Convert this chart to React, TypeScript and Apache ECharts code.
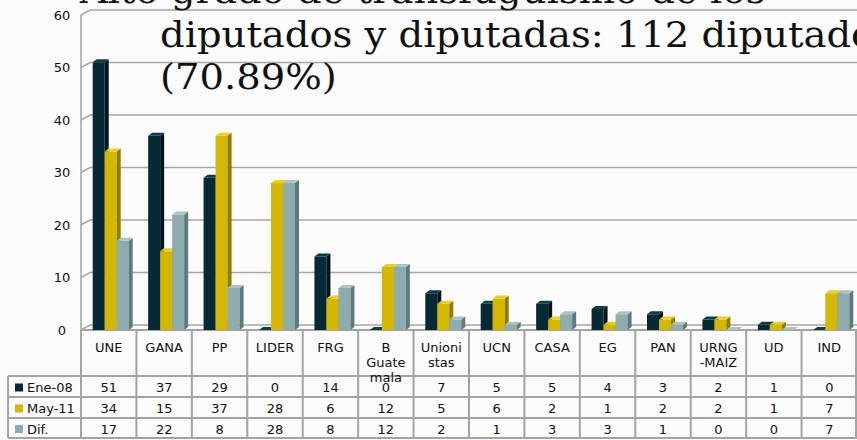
import React, { useEffect, useRef } from 'react';
import * as echarts from 'echarts';

const categories = ['UNE', 'GANA', 'PP', 'LIDER', 'FRG', 'B\nGuate\nmala', 'Unioni\nstas', 'UCN', 'CASA', 'EG', 'PAN', 'URNG\n-MAIZ', 'UD', 'IND'];
const seriesNames = ['Ene-08', 'May-11', 'Dif.'];
const ene08 = [51, 37, 29, 0, 14, 0, 7, 5, 5, 4, 3, 2, 1, 0];
const may11 = [34, 15, 37, 28, 6, 12, 5, 6, 2, 1, 2, 2, 1, 7];
const dif = [17, 22, 8, 28, 8, 12, 2, 1, 3, 3, 1, 0, 0, 7];
const yTicks = [0, 10, 20, 30, 40, 50, 60];
const titleLines = ['Alto grado de transfuguismo de los', 'diputados y diputadas: 112 diputados', '(70.89%)'];

const W = 857;
const H = 440;
const GRID_LEFT = 81;
const GRID_TOP = 15;
const GRID_BOTTOM_Y = 330;
const COL_W = (W - GRID_LEFT) / categories.length;
const ROW_LINES = [376, 397, 418, 438];

const FRONT = ['#052a35', '#d3b700', '#8eabae'];
const SIDE = ['#01151b', '#8f7c00', '#5f7a7d'];
const TOP = ['#0f3c49', '#e8cf24', '#aac3c5'];
const GRID_COLOR = '#a8a8a8';
const TABLE_LINE = '#a3a3a3';
const FONT = '"DejaVu Sans", "Open Sans", sans-serif';

const BW = 12;
const DX = 4;
const DY = 3;

function makeBarSeries(idx: number, values: number[]) {
  return {
    type: 'custom',
    name: seriesNames[idx],
    silent: true,
    z: 3,
    data: values.map((v, i) => [i, v]),
    renderItem: (params: any, api: any) => {
      const i = api.value(0);
      const v = api.value(1);
      const t = api.coord([i, v]);
      const b = api.coord([i, 0]);
      const L = t[0] - 16 + idx * BW;
      const top = t[1];
      const base = b[1];
      return {
        type: 'group',
        children: [
          {
            type: 'rect',
            shape: { x: L, y: top, width: BW, height: Math.max(0, base - top) },
            style: { fill: FRONT[idx] },
          },
          {
            type: 'polygon',
            shape: { points: [[L + BW, top], [L + BW + DX, top - DY], [L + BW + DX, base - DY], [L + BW, base]] },
            style: { fill: SIDE[idx] },
          },
          {
            type: 'polygon',
            shape: { points: [[L, top], [L + DX, top - DY], [L + BW + DX, top - DY], [L + BW, top]] },
            style: { fill: TOP[idx] },
          },
        ],
      };
    },
  };
}

const wallSeries = {
  type: 'custom',
  silent: true,
  z: 1,
  data: yTicks.map((v) => [0, v]),
  renderItem: (params: any, api: any) => {
    const cs = params.coordSys;
    const v = api.value(1);
    const y = api.coord([0, v])[1];
    const children: any[] = [
      {
        type: 'polyline',
        shape: { points: [[cs.x, y], [cs.x + 9, y - 5], [cs.x + cs.width, y - 5]] },
        style: { stroke: GRID_COLOR, lineWidth: 1.6, fill: 'none' },
      },
    ];
    if (v === 0) {
      children.push({
        type: 'line',
        shape: { x1: cs.x, y1: cs.y, x2: cs.x, y2: cs.y + cs.height },
        style: { stroke: GRID_COLOR, lineWidth: 1.6 },
      });
    }
    return { type: 'group', children };
  },
};

function buildTableGraphics() {
  const els: any[] = [];
  const allSeries = [ene08, may11, dif];
  els.push({ type: 'line', shape: { x1: GRID_LEFT, y1: GRID_BOTTOM_Y, x2: W, y2: GRID_BOTTOM_Y }, style: { stroke: TABLE_LINE, lineWidth: 2 } });
  for (let k = 0; k <= categories.length; k++) {
    const x = Math.min(W - 1, GRID_LEFT + k * COL_W);
    els.push({ type: 'line', shape: { x1: x, y1: GRID_BOTTOM_Y, x2: x, y2: ROW_LINES[3] }, style: { stroke: TABLE_LINE, lineWidth: 2 } });
  }
  els.push({ type: 'line', shape: { x1: 8, y1: ROW_LINES[0], x2: 8, y2: ROW_LINES[3] }, style: { stroke: TABLE_LINE, lineWidth: 2 } });
  ROW_LINES.forEach((y) => {
    els.push({ type: 'line', shape: { x1: 8, y1: y, x2: W, y2: y }, style: { stroke: TABLE_LINE, lineWidth: 2 } });
  });
  allSeries.forEach((vals, r) => {
    const cy = (ROW_LINES[r] + ROW_LINES[r + 1]) / 2 + 1;
    els.push({ type: 'rect', shape: { x: 15, y: cy - 4, width: 8, height: 8 }, style: { fill: FRONT[r] } });
    els.push({
      type: 'text',
      x: 27,
      y: cy,
      style: { text: seriesNames[r], font: `13px ${FONT}`, fill: '#111', align: 'left', verticalAlign: 'middle' },
    });
    vals.forEach((v, k) => {
      els.push({
        type: 'text',
        x: GRID_LEFT + (k + 0.5) * COL_W,
        y: cy,
        style: { text: String(v), font: `13px ${FONT}`, fill: '#111', align: 'center', verticalAlign: 'middle' },
      });
    });
  });
  return els;
}

function buildTitle() {
  const pos = [
    [80, -9],
    [160, 35.5],
    [160, 77.5],
  ];
  return titleLines.map((t, i) => ({
    type: 'text',
    x: pos[i][0],
    y: pos[i][1],
    scaleX: 1.1,
    z: 10,
    style: { text: t, font: '35px "DejaVu Serif", serif', fill: '#111', align: 'left', verticalAlign: 'middle' },
  }));
}

export default function App() {
  const ref = useRef<HTMLDivElement>(null);
  useEffect(() => {
    document.body.style.margin = '0';
    if (!ref.current) return;
    const chart = echarts.init(ref.current, undefined, { renderer: 'svg' });
    chart.setOption({
      animation: false,
      backgroundColor: '#fbfbfb',
      grid: { left: GRID_LEFT, right: 0, top: GRID_TOP, bottom: H - GRID_BOTTOM_Y },
      xAxis: {
        type: 'category',
        data: categories,
        axisLine: { show: false },
        axisTick: { show: false },
        splitLine: { show: false },
        axisLabel: {
          interval: 0,
          margin: 10,
          verticalAlign: 'top',
          lineHeight: 15,
          fontSize: 13,
          fontFamily: FONT,
          color: '#111',
        },
      },
      yAxis: {
        type: 'value',
        min: 0,
        max: 60,
        interval: 10,
        axisLine: { show: false },
        axisTick: { show: false },
        splitLine: { show: false },
        axisLabel: { margin: 19, align: 'center', fontSize: 13, fontFamily: FONT, color: '#111' },
      },
      series: [wallSeries, makeBarSeries(0, ene08), makeBarSeries(1, may11), makeBarSeries(2, dif)],
      graphic: [...buildTableGraphics(), ...buildTitle()],
    });
    return () => chart.dispose();
  }, []);
  return <div ref={ref} style={{ width: W, height: H }} />;
}
